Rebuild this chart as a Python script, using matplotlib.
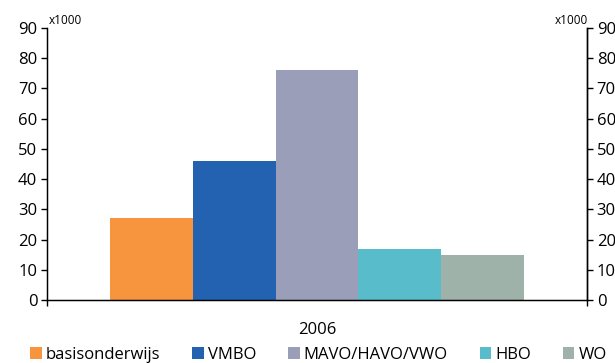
import matplotlib.pyplot as plt
import numpy as np

# leerlingen / studenten per onderwijssoort, 2006 (x1000)
categories = ["basisonderwijs", "VMBO", "MAVO/HAVO/VWO", "HBO", "WO"]
values = [27, 46, 76, 17, 15]
colors = ["#F7953E", "#2262B0", "#9A9EB9", "#58BCCB", "#9EB2AA"]
year = "2006"
yticks = [0, 10, 20, 30, 40, 50, 60, 70, 80, 90]

plt.rcParams['font.family'] = ['Open Sans', 'DejaVu Sans']

fig = plt.figure(figsize=(6.15, 3.63), dpi=100)
ax = fig.add_axes([47/615, 1-300/363, 540/615, 272/363])

width = 0.1537
for i, (c, v, col) in enumerate(zip(categories, values, colors)):
    ax.bar((i - 2) * width, v, width=width, color=col, label=c, linewidth=0)

ax.set_xlim(-0.5, 0.5)
ax.set_ylim(0, 90)
ax.set_yticks(yticks)
ax.set_xticks([0])
ax.set_xticklabels([year])
ax.set_xticks([-0.5, 0.5], minor=True)
ax.tick_params(axis='x', which='major', length=0, pad=16, labelsize=12)
ax.tick_params(axis='x', which='minor', length=4, direction='out', width=1)
ax.tick_params(axis='y', length=4, direction='out', width=1, labelsize=12, pad=3)
ax.spines['top'].set_visible(False)
for s in ax.spines.values():
    s.set_linewidth(1)

ax2 = ax.twinx()
ax2.set_ylim(0, 90)
ax2.set_yticks(yticks)
ax2.tick_params(axis='y', length=4, direction='out', width=1, labelsize=12, pad=3)
ax2.spines['top'].set_visible(False)
ax2.spines['right'].set_linewidth(1)

fig.text(49/615, 1-20/363, "x1000", fontsize=8.5, ha='left', va='center')
fig.text(588/615, 1-20/363, "x1000", fontsize=8.5, ha='right', va='center')

fig.legend(loc='center left', bbox_to_anchor=(30/615, 1-355/363), ncol=5,
           frameon=False, fontsize=12, handlelength=0.7, handleheight=0.7,
           handletextpad=0.25, columnspacing=1.9, borderpad=0, borderaxespad=0)

fig.savefig("out.png", dpi=100)
